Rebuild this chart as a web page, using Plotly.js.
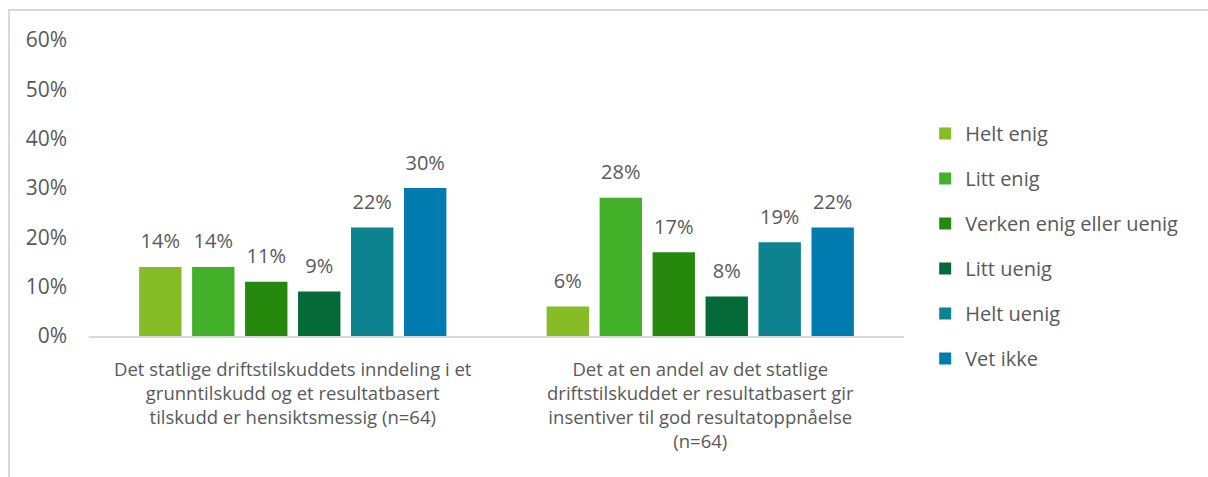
<!DOCTYPE html>
<html>
<head>
<meta charset="utf-8">
<script src="https://cdn.plot.ly/plotly-3.0.1.min.js"></script>
<style>
  body { margin: 0; background: #fff; }
  #frame {
    position: absolute; left: 8px; top: 9px;
    width: 1200px; height: 468px;
    border-top: 2px solid #d9d9d9; border-left: 2px solid #d9d9d9;
  }
</style>
</head>
<body>
<div id="frame"><div id="plot"></div></div>
<script>
const categories = [
  'Det statlige driftstilskuddets inndeling i et<br>grunntilskudd og et resultatbasert<br>tilskudd er hensiktsmessig (n=64)',
  'Det at en andel av det statlige<br>driftstilskuddet er resultatbasert gir<br>insentiver til god resultatoppnåelse<br>(n=64)'
];
const seriesNames = ['Helt enig', 'Litt enig', 'Verken enig eller uenig', 'Litt uenig', 'Helt uenig', 'Vet ikke'];
const helEnig = [0.14, 0.06];
const littEnig = [0.14, 0.28];
const verken = [0.11, 0.17];
const littUenig = [0.09, 0.08];
const heltUenig = [0.22, 0.19];
const vetIkke = [0.30, 0.22];
const colors = ['#86BC25', '#43B02A', '#26890D', '#046A38', '#0D8390', '#007CB0'];

const seriesValues = [helEnig, littEnig, verken, littUenig, heltUenig, vetIkke];
const textColor = '#595959';
const fontFamily = '"Open Sans", sans-serif';

const traces = [];
seriesValues.forEach((vals, i) => {
  traces.push({
    type: 'bar',
    name: seriesNames[i],
    x: [0, 1],
    y: vals,
    offsetgroup: 'g' + i,
    legendgroup: 'g' + i,
    marker: { color: colors[i], line: { width: 0 } },
    hoverinfo: 'skip'
  });
});
// value labels above the bars, grouped the same way as the bars
seriesValues.forEach((vals, i) => {
  traces.push({
    type: 'scatter',
    mode: 'markers+text',
    x: [0, 1],
    y: vals,
    offsetgroup: 'g' + i,
    showlegend: false,
    text: vals.map(v => Math.round(v * 100) + '%'),
    textposition: 'top center',
    textfont: { size: 20, color: textColor, family: fontFamily },
    marker: { size: 20, color: 'rgba(0,0,0,0)' },
    hoverinfo: 'skip',
    cliponaxis: false
  });
});

const layout = {
  width: 1198,
  height: 466,
  margin: { l: 79, r: 304, t: 29, b: 141 },
  paper_bgcolor: '#fff',
  plot_bgcolor: '#fff',
  font: { family: fontFamily, size: 18, color: textColor },
  barmode: 'group',
  bargap: 0.22,
  bargroupgap: 0.2,
  scattermode: 'group',
  scattergap: 0.22,
  xaxis: {
    tickmode: 'array',
    tickvals: [0, 1],
    ticktext: categories,
    range: [-0.5, 1.5],
    showgrid: false,
    zeroline: false,
    showline: true,
    linecolor: '#d9d9d9',
    linewidth: 2,
    ticks: '',
    ticklabelstandoff: 16,
    tickfont: { size: 18.5, color: textColor }
  },
  yaxis: {
    range: [0, 0.6],
    tickvals: [0, 0.1, 0.2, 0.3, 0.4, 0.5, 0.6],
    tickformat: '.0%',
    showgrid: false,
    zeroline: false,
    showline: false,
    ticks: '',
    ticklabelstandoff: 21,
    tickfont: { size: 21, color: textColor }
  },
  showlegend: true,
  legend: {
    x: 1.026,
    y: 0.75,
    xanchor: 'left',
    yanchor: 'top',
    traceorder: 'grouped',
    tracegroupgap: 16,
    font: { size: 20, color: textColor }
  }
};

Plotly.newPlot('plot', traces, layout, { displayModeBar: false, staticPlot: true });
</script>
</body>
</html>
